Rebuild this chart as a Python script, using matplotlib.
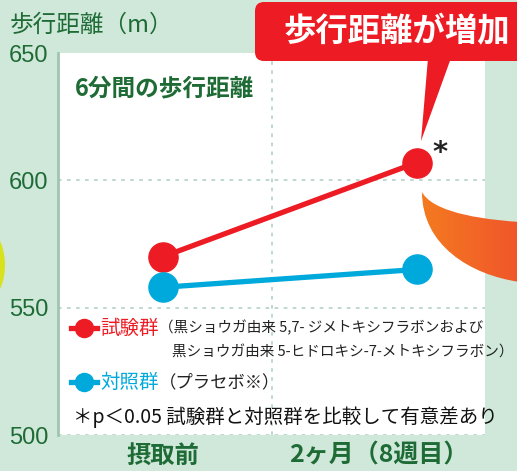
import numpy as np
import matplotlib
matplotlib.use("Agg")
import matplotlib.pyplot as plt
import matplotlib.transforms as mtransforms
from matplotlib.patches import FancyBboxPatch, Polygon, PathPatch, Ellipse
from matplotlib.path import Path

plt.rcParams['font.family'] = ['Noto Sans CJK JP', 'DejaVu Sans']

# データ
periods = ["摂取前", "2ヶ月（8週目）"]
test_group = [570, 607]      # 試験群
control_group = [558, 565]   # 対照群
y_ticks = [500, 550, 600, 650]

RED = '#ed1c24'
BLUE = '#00a9dc'
GREEN = '#1e6b35'
BG = '#cfe8da'

W, H = 517, 471
fig = plt.figure(figsize=(W / 100, H / 100), dpi=100, facecolor=BG)

# メインの軸 (白い領域)
ax = fig.add_axes([58 / W, 1 - 435 / H, (485 - 58) / W, (435 - 53) / H])
ax.set_facecolor('white')
x = np.arange(len(periods))
ax.set_xlim(-0.413, 1.268)
ax.set_ylim(500, 650)

for v in [500, 550, 600]:
    ax.axhline(v, color='#b9d6cb', lw=1.3, ls=(0, (2, 3)), zorder=1)
ax.axvline(0.429, color='#b9d6cb', lw=1.3, ls=(0, (2, 3)), zorder=1)

ax.plot(x, test_group, color=RED, lw=3.8, marker='o', ms=21, zorder=4)
ax.plot(x, control_group, color=BLUE, lw=3.8, marker='o', ms=21, zorder=4)

for s in ['top', 'right', 'bottom']:
    ax.spines[s].set_visible(False)
ax.spines['left'].set_color('#9fc5b0')
ax.spines['left'].set_linewidth(2)

ax.set_yticks(y_ticks)
ax.set_yticklabels([str(v) for v in y_ticks], family=['Liberation Sans'], fontsize=17, color=GREEN)
ax.tick_params(axis='y', length=0, pad=7)
ax.set_xticks(x)
ax.set_xticklabels(periods, fontsize=17.5, color=GREEN, fontweight='bold')
ax.tick_params(axis='x', length=0, pad=6)
lbl = ax.get_xticklabels()[1]
lbl.set_fontsize(18)
lbl.set_transform(lbl.get_transform() + mtransforms.ScaledTranslation(-0.38, 0, fig.dpi_scale_trans))

ax.text(0.04, 0.907, "6分間の歩行距離", transform=ax.transAxes, fontsize=17, fontweight='bold',
        color=GREEN, va='center', ha='left')

# 凡例
ax.plot([-0.36, -0.26], [542, 542], color=RED, lw=3.8, zorder=4)
ax.plot([-0.31], [542], color=RED, marker='o', ms=13, zorder=5)
ax.text(-0.245, 542, "試験群", fontsize=14, color=RED, va='center')
ax.text(-0.015, 542, "（黒ショウガ由来 5,7- ジメトキシフラボンおよび", fontsize=10.5, color='#222222', va='center')
ax.text(0.035, 532.2, "黒ショウガ由来 5-ヒドロキシ-7-メトキシフラボン）", fontsize=10.5, color='#222222', va='center')
ax.plot([-0.36, -0.26], [520.8, 520.8], color=BLUE, lw=3.8, zorder=4)
ax.plot([-0.31], [520.8], color=BLUE, marker='o', ms=13, zorder=5)
ax.text(-0.245, 520.8, "対照群", fontsize=14, color=BLUE, va='center')
ax.text(-0.015, 520.8, "（プラセボ※）", fontsize=12.5, color='#222222', va='center')
ax.text(-0.355, 507.1, "＊p＜0.05 試験群と対照群を比較して有意差あり", fontsize=14, color='#111111', va='center')

# 軸ラベル
fig.text(10 / W, 1 - 25 / H, "歩行距離（m）", fontsize=17, color=GREEN, va='center', ha='left')

# 装飾用のオーバーレイ
ov = fig.add_axes([0, 0, 1, 1], zorder=10)
ov.set_xlim(0, W)
ov.set_ylim(H, 0)
ov.axis('off')
ov.patch.set_alpha(0)

ov.text(432, 153, "*", family=['DejaVu Sans'], fontsize=21, fontweight='bold',
        color='#222222', ha='left', va='center')

# 吹き出し
ov.add_patch(FancyBboxPatch((255, 2), 300, 59, boxstyle="round,pad=0,rounding_size=9",
                            fc=RED, ec='none'))
ov.add_patch(Polygon([(428, 58), (451, 58), (421, 141)], closed=True, fc=RED, ec='none'))
ov.text(283, 32, "歩行距離が増加", fontsize=23.3, fontweight='bold', color='white', va='center', ha='left')

# オレンジの曲線
verts = [(422, 192), (430, 207), (460, 218), (520, 222),
         (520, 282), (470, 275), (422, 245), (422, 192), (422, 192)]
codes = [Path.MOVETO, Path.CURVE4, Path.CURVE4, Path.CURVE4,
         Path.LINETO, Path.CURVE4, Path.CURVE4, Path.CURVE4, Path.CLOSEPOLY]
swoosh = PathPatch(Path(verts, codes), fc='none', ec='none')
ov.add_patch(swoosh)
grad = np.linspace(0, 1, 100).reshape(1, -1)
cmap = matplotlib.colors.LinearSegmentedColormap.from_list('o', ['#f47b20', '#f0552a'])
im = ov.imshow(grad, extent=(420, 520, 290, 185), cmap=cmap, aspect='auto', zorder=11)
im.set_clip_path(swoosh)
ov.set_xlim(0, W)
ov.set_ylim(H, 0)

# 左端の黄色い弧
ov.add_patch(Ellipse((-35, 265), 80, 100, fc='#d8e21c', ec='none'))

fig.savefig("out.png", dpi=100, facecolor=BG)
